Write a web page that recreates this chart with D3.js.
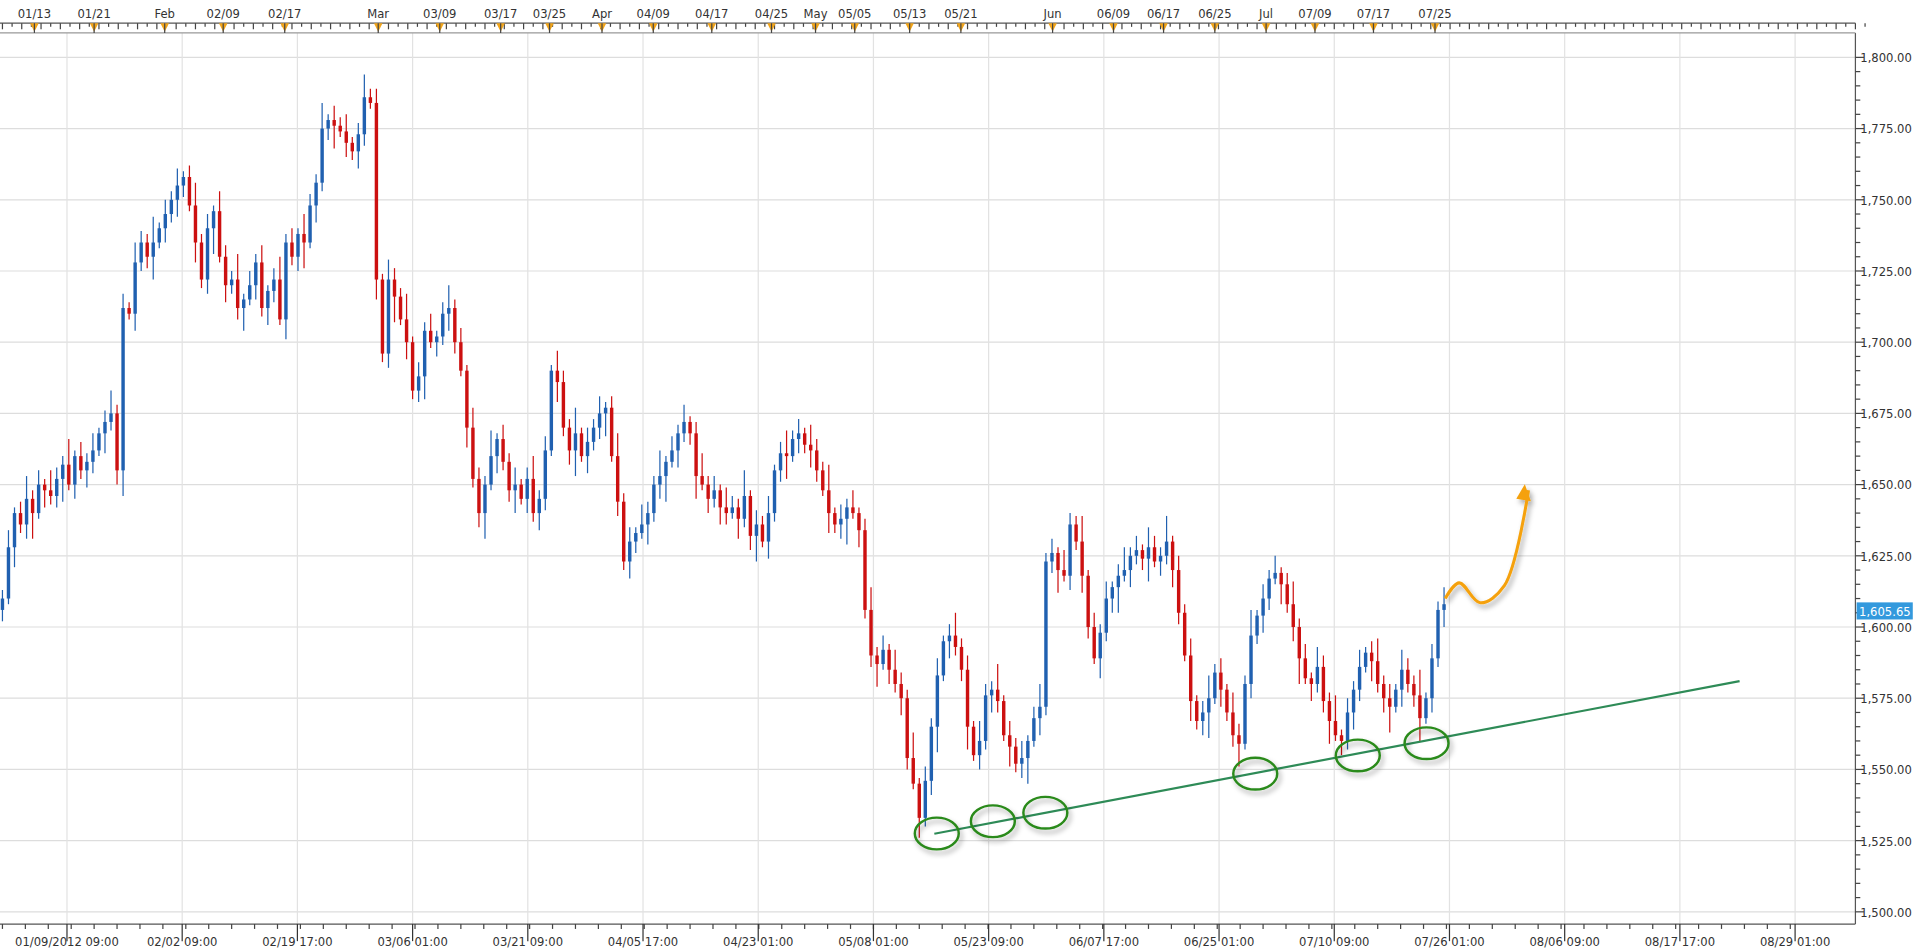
<!DOCTYPE html><html><head><meta charset="utf-8">
<script src="https://cdn.jsdelivr.net/npm/d3@7"></script>
<style>body{margin:0;background:#fff}svg{display:block}text{font-family:Verdana,"DejaVu Sans",sans-serif;font-size:9.5px;fill:#333}</style></head><body>
<script>
const closes=[
1610,1628,1640,1636,1645,1640,1650,1648,1646,1652,
1657,1650,1660,1655,1658,1662,1668,1672,1675,1655,
1712,1710,1728,1735,1730,1735,1740,1745,1750,1755,
1758,1748,1735,1722,1740,1746,1730,1720,1722,1712,
1715,1720,1728,1712,1718,1722,1708,1735,1730,1738,
1735,1748,1756,1775,1778,1776,1774,1770,1767,1773,
1786,1784,1722,1696,1722,1716,1708,1700,1683,1688,
1704,1700,1702,1710,1712,1700,1690,1670,1652,1640,
1650,1660,1666,1658,1648,1650,1645,1652,1640,1645,
1662,1690,1686,1670,1662,1668,1660,1665,1670,1675,
1677,1660,1644,1623,1630,1633,1636,1640,1650,1653,
1658,1662,1668,1672,1668,1653,1650,1645,1648,1642,
1640,1642,1638,1646,1632,1636,1630,1640,1655,1661,
1660,1666,1668,1664,1662,1655,1648,1640,1636,1638,
1642,1640,1634,1606,1590,1587,1592,1585,1580,1575,
1554,1545,1533,1546,1565,1583,1595,1597,1593,1585,
1565,1555,1560,1576,1578,1574,1562,1558,1552,1554,
1560,1568,1572,1623,1626,1620,1618,1636,1630,1618,
1600,1589,1598,1610,1614,1618,1620,1625,1627,1624,
1628,1623,1625,1630,1620,1605,1590,1574,1567,1570,
1575,1584,1578,1570,1562,1559,1580,1597,1604,1610,
1617,1619,1615,1608,1600,1589,1582,1580,1586,1574,
1567,1562,1560,1570,1578,1586,1591,1588,1580,1575,
1572,1578,1585,1580,1576,1568,1575,1589,1606,1608];
const wickUp=[3,6,2,4,8,3,5,2,7,4,3,9,2,5];
const wickDn=[4,2,7,3,5,9,2,6,3,4,8,2,5,3,6];
const topLabels=["01/13","01/21","Feb","02/09","02/17","Mar","03/09","03/17","03/25","Apr","04/09","04/17","04/25","May","05/05","05/13","05/21","Jun","06/09","06/17","06/25","Jul","07/09","07/17","07/25"];
const topIdx=[5.3,15.2,26.9,36.6,46.8,62.3,72.5,82.6,90.7,99.4,107.9,117.6,127.5,134.8,141.3,150.4,158.9,174.1,184.2,192.5,201,209.5,217.6,227.3,237.5];
const bottomLabels=["01/09/2012 09:00","02/02 09:00","02/19 17:00","03/06 01:00","03/21 09:00","04/05 17:00","04/23 01:00","05/08 01:00","05/23 09:00","06/07 17:00","06/25 01:00","07/10 09:00","07/26 01:00","08/06 09:00","08/17 17:00","08/29 01:00"];
const bottomIdx=[10.7,29.8,48.9,68,87.1,106.2,125.3,144.4,163.5,182.6,201.7,220.8,239.9,259,278.1,297.2];
const yTicks=[1500,1525,1550,1575,1600,1625,1650,1675,1700,1725,1750,1775,1800];
const lastPrice=1605.65;
const trend=[[154.5,1527.4],[288,1581]];
const circles=[[154.9,1527.5],[164.2,1531.8],[172.9,1534.8],[207.7,1548.5],[224.7,1554.9],[236.1,1559.2]];
const arrowPts=[[239.2,1610],[241.5,1615.5],[245,1608.5],[249,1614.5],[253,1648]];

const W=1914,H=950,K=1914/1568;
const svg0=d3.select("body").append("svg").attr("width",W).attr("height",H);
const svg=svg0.append("g").attr("transform",`scale(${K})`);
const x=d3.scaleLinear().domain([0,239]).range([2,1183]);
const y=d3.scaleLinear().domain([1500,1800]).range([747,47]);
const L=0,R=1520,T=27,B=757;
const defs=svg0.append("defs");
const f=defs.append("filter").attr("id","sh").attr("x","-20%").attr("y","-20%").attr("width","150%").attr("height","150%");
f.append("feDropShadow").attr("dx",2).attr("dy",3).attr("stdDeviation",2).attr("flood-color","#000").attr("flood-opacity",0.35);
defs.append("clipPath").attr("id","cp").append("rect").attr("x",L).attr("y",T).attr("width",R-L).attr("height",B-T);

svg.append("g").selectAll("line").data(yTicks).join("line")
 .attr("x1",L).attr("x2",R).attr("y1",d=>y(d)).attr("y2",d=>y(d)).attr("stroke","#ddd");
svg.append("g").selectAll("line").data(bottomIdx).join("line")
 .attr("x1",d=>x(d)).attr("x2",d=>x(d)).attr("y1",T).attr("y2",B).attr("stroke","#e2e2e2");

const g=svg.append("g").attr("clip-path","url(#cp)");
const candles=closes.map((c,i)=>{const o=i?closes[i-1]:c-4;return{i,o,c,h:Math.max(o,c)+wickUp[i%wickUp.length],l:Math.min(o,c)-wickDn[i%wickDn.length]};});
const col=d=>d.c>=d.o?"#2060b0":"#cc1010";
g.selectAll("line.w").data(candles).join("line").attr("class","w")
 .attr("x1",d=>x(d.i)).attr("x2",d=>x(d.i)).attr("y1",d=>y(d.h)).attr("y2",d=>y(d.l)).attr("stroke",col).attr("stroke-width",1);
g.selectAll("rect").data(candles).join("rect")
 .attr("x",d=>x(d.i)-1.4).attr("width",2.8).attr("y",d=>y(Math.max(d.o,d.c))).attr("height",d=>Math.max(1,Math.abs(y(d.o)-y(d.c)))).attr("fill",col);

svg.append("line").attr("x1",x(trend[0][0])).attr("y1",y(trend[0][1])).attr("x2",x(trend[1][0])).attr("y2",y(trend[1][1])).attr("stroke","#2e8b57").attr("stroke-width",1.8);
svg.append("g").selectAll("ellipse").data(circles).join("ellipse").attr("cx",d=>x(d[0])).attr("cy",d=>y(d[1])).attr("rx",18).attr("ry",13)
 .attr("fill","none").attr("stroke","#2a8a1a").attr("stroke-width",2).attr("filter","url(#sh)");
const ln=d3.line().x(d=>x(d[0])).y(d=>y(d[1])).curve(d3.curveCatmullRom);
const ag=svg.append("g").attr("filter","url(#sh)");
ag.append("path").attr("d",ln(arrowPts)).attr("fill","none").attr("stroke","#f5a10a").attr("stroke-width",2.5);
const tip=arrowPts[arrowPts.length-1],tx=x(tip[0]),ty=y(tip[1]);
ag.append("path").attr("d",`M${tx-3},${ty-5} l-7,12 l12,2 z`).attr("fill","#f5a10a");

svg.append("line").attr("x1",R).attr("x2",R).attr("y1",T).attr("y2",B).attr("stroke","#555");
const minor=d3.range(1500,1805,5);
svg.append("g").selectAll("line").data(minor).join("line").attr("x1",R).attr("x2",d=>R+(d%25?4:7)).attr("y1",d=>y(d)).attr("y2",d=>y(d)).attr("stroke","#444");
svg.append("g").selectAll("text").data(yTicks).join("text").attr("x",R+4).attr("y",d=>y(d)+4).text(d=>d3.format(",.2f")(d));
svg.append("rect").attr("x",R+1).attr("y",y(lastPrice)-7).attr("width",46).attr("height",14).attr("fill","#3399dd");
svg.append("text").attr("x",R+3).attr("y",y(lastPrice)+4).style("fill","#fff").text(d3.format(",.2f")(lastPrice));

svg.append("line").attr("x1",0).attr("x2",R).attr("y1",B).attr("y2",B).attr("stroke","#555");
svg.append("g").selectAll("line").data(d3.range(0,300,3.8)).join("line").attr("x1",d=>x(d)).attr("x2",d=>x(d)).attr("y1",B).attr("y2",B+4).attr("stroke","#444");
svg.append("g").selectAll("line").data(bottomIdx).join("line").attr("x1",d=>x(d)).attr("x2",d=>x(d)).attr("y1",B).attr("y2",B+14).attr("stroke","#333");
svg.append("g").selectAll("text").data(bottomLabels).join("text").attr("x",(d,i)=>Math.max(x(bottomIdx[i]),i?0:44)).attr("y",B+18).attr("text-anchor","middle").text(d=>d);

svg.append("line").attr("x1",0).attr("x2",R).attr("y1",T).attr("y2",T).attr("stroke","#999");
svg.append("line").attr("x1",0).attr("x2",R).attr("y1",T-8).attr("y2",T-8).attr("stroke","#555");
svg.append("g").selectAll("line").data(d3.range(0,310,1.6)).join("line").attr("x1",d=>x(d)).attr("x2",d=>x(d)).attr("y1",T-8).attr("y2",(d,i)=>T-8+(i%2?3:5)).attr("stroke","#444");
svg.append("g").selectAll("path").data(topIdx).join("path").attr("d",d=>`M${x(d)-3.5},${T-8} L${x(d)+3.5},${T-8} L${x(d)},${T-1} Z`).attr("fill","#f2a51a");
svg.append("g").selectAll("line").data(topIdx).join("line").attr("x1",d=>x(d)).attr("x2",d=>x(d)).attr("y1",T-8).attr("y2",T).attr("stroke","#444");
svg.append("g").selectAll("text").data(topLabels).join("text").attr("x",(d,i)=>x(topIdx[i])).attr("y",T-12).attr("text-anchor","middle").text(d=>d);
</script></body></html>
